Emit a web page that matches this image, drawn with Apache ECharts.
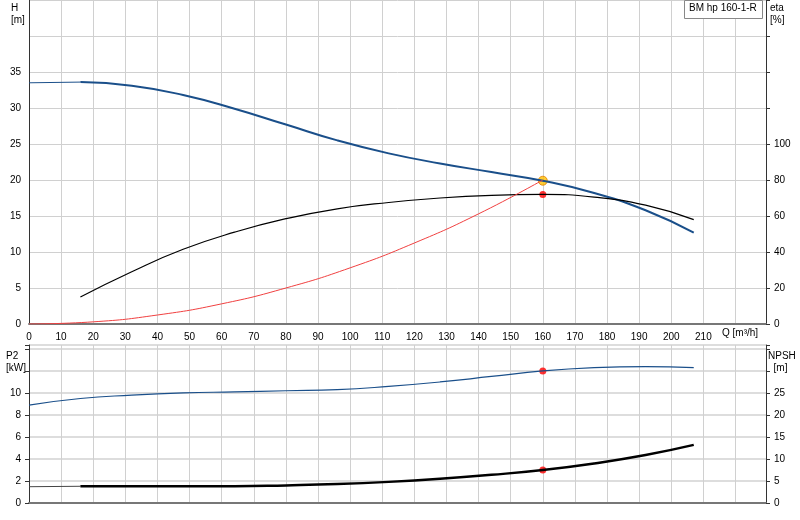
<!DOCTYPE html><html><head><meta charset="utf-8"><script src="https://cdn.jsdelivr.net/npm/echarts@6/dist/echarts.min.js"></script></head><body style="margin:0"><div id="c" style="width:800px;height:520px"></div><script>
const qMain=[16,32,48,64,80,96,112,128,144,160,176,192,207];
const head=[33.6,33.1,31.8,29.9,27.7,25.5,23.7,22.3,21.1,19.9,18.2,15.8,12.7];
const headLow=[[0,33.5],[16,33.6]];
const eta=[15,29,41.5,51,58.5,64,67.5,70,71.5,72,70.5,66,58];
const sysQ=[0,20,40,60,80,100,120,140,160];
const sysH=[0,0.3,1.25,2.8,5,7.8,11.25,15.3,20];
const p2Q=[0,16,32,48,64,80,96,112,128,144,160,176,192,207];
const p2=[8.9,9.5,9.8,10.0,10.1,10.2,10.3,10.6,11.0,11.5,12.0,12.3,12.4,12.3];
const npsh=[3.8,3.8,3.8,3.8,4.0,4.3,4.8,5.5,6.4,7.5,9.0,10.9,13.2];
const npshLow=[[0,3.7],[16,3.8]];
const duty={q:160,h:19.9,eta:72,p2:12.0,npsh:7.5};
const z=(a,b)=>a.map((v,i)=>[v,b[i]]);
const F='Arial, Liberation Sans, sans-serif';
const gl={show:true,lineStyle:{color:'#d0d0d0'}};
const lab={fontSize:10,color:'#000',fontFamily:F};
const ch=echarts.init(document.getElementById('c'));
ch.setOption({animation:false,
grid:[{left:29,right:34,top:0,height:324},{left:29,right:34,top:345,height:158}],
xAxis:[{gridIndex:0,type:'value',min:0,max:229.5,interval:10,splitLine:gl,axisLine:{lineStyle:{color:'#777',width:2}},axisTick:{show:false},axisLabel:Object.assign({formatter:v=>v<=210?v:''},lab)},
{gridIndex:1,type:'value',min:0,max:229.5,interval:10,splitLine:gl,axisLine:{lineStyle:{color:'#777',width:2}},axisTick:{show:false},axisLabel:{show:false}}],
yAxis:[{gridIndex:0,min:0,max:45,interval:5,splitLine:gl,axisLine:{show:true,lineStyle:{color:'#333'}},axisTick:{show:false},axisLabel:Object.assign({formatter:v=>v<=35?v:''},lab)},
{gridIndex:0,position:'right',min:0,max:180,interval:20,splitLine:{show:false},axisLine:{show:true,lineStyle:{color:'#333'}},axisTick:{show:true,length:4},axisLabel:Object.assign({formatter:v=>v<=100?v:''},lab)},
{gridIndex:1,min:0,max:14.36,interval:2,splitLine:{show:true,lineStyle:{color:'#ddd',width:2}},axisLine:{show:true,lineStyle:{color:'#333'}},axisTick:{show:true,length:4},axisLabel:Object.assign({formatter:v=>v<=10?v:''},lab)},
{gridIndex:1,position:'right',min:0,max:35.9,interval:5,splitLine:{show:false},axisLine:{show:true,lineStyle:{color:'#333'}},axisTick:{show:true,length:4},axisLabel:Object.assign({formatter:v=>v<=25?v:''},lab)}],
series:[
{type:'line',data:headLow,symbol:'none',lineStyle:{color:'#1a4f8a',width:1}},
{type:'line',data:z(qMain,head),symbol:'none',smooth:true,lineStyle:{color:'#1a4f8a',width:2}},
{type:'line',yAxisIndex:1,data:z(qMain,eta),symbol:'none',smooth:true,lineStyle:{color:'#000',width:1.2}},
{type:'line',data:z(sysQ,sysH),symbol:'none',smooth:true,lineStyle:{color:'#f04040',width:1}},
{type:'scatter',yAxisIndex:1,data:[[duty.q,duty.eta]],symbolSize:7,itemStyle:{color:'#f00'}},
{type:'scatter',data:[[duty.q,duty.h]],symbolSize:9,itemStyle:{color:'#ffc000',borderColor:'#e08000',borderWidth:1}},
{type:'line',xAxisIndex:1,yAxisIndex:2,data:z(p2Q,p2),symbol:'none',smooth:true,lineStyle:{color:'#1a4f8a',width:1.2}},
{type:'line',xAxisIndex:1,yAxisIndex:3,data:npshLow,symbol:'none',lineStyle:{color:'#444',width:1}},
{type:'line',xAxisIndex:1,yAxisIndex:3,data:z(qMain,npsh),symbol:'none',smooth:true,lineStyle:{color:'#000',width:2.5}},
{type:'scatter',xAxisIndex:1,yAxisIndex:2,data:[[duty.q,duty.p2]],symbolSize:7,itemStyle:{color:'#f00'}},
{type:'scatter',xAxisIndex:1,yAxisIndex:3,data:[[duty.q,duty.npsh]],symbolSize:7,itemStyle:{color:'#f00'}}],
graphic:[
{type:'text',left:11,top:2,style:{text:'H\n[m]',align:'center',fontSize:10,fontFamily:F,lineHeight:12}},
{type:'text',left:770,top:2,style:{text:'eta\n[%]',fontSize:10,fontFamily:F,lineHeight:12}},
{type:'text',left:722,top:328,style:{text:'Q [m³/h]',fontSize:10,fontFamily:F}},
{type:'text',left:6,top:350,style:{text:'P2\n[kW]',fontSize:10,fontFamily:F,lineHeight:12}},
{type:'text',left:768,top:350,style:{text:'NPSH\n  [m]',fontSize:10,fontFamily:F,lineHeight:12}},
{type:'rect',z:100,left:684,top:0,shape:{width:78,height:18},style:{fill:'#fff',stroke:'#888'}},
{type:'text',z:101,left:689,top:3,style:{text:'BM hp 160-1-R',fontSize:10,fontFamily:F}}]});
</script></body></html>
